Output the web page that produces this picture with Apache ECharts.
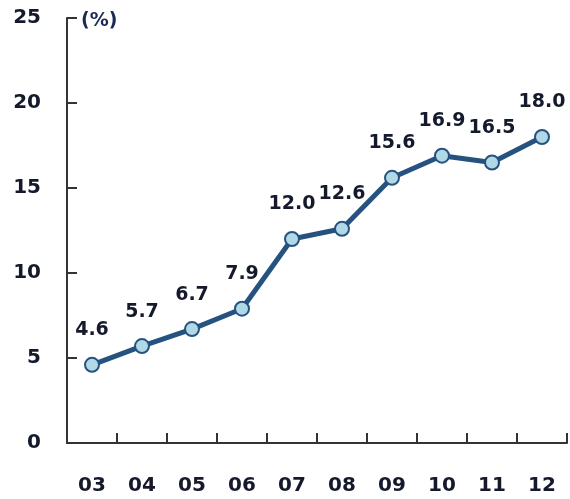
<!DOCTYPE html>
<html>
<head>
<meta charset="utf-8">
<script src="https://cdn.jsdelivr.net/npm/echarts@6/dist/echarts.min.js"></script>
<style>
  html, body { margin: 0; padding: 0; background: #fff; }
  #chart { width: 570px; height: 499px; }
</style>
</head>
<body>
<div id="chart"></div>
<script>
// Years (two-digit) and the share in percent for each year
const years = ['03', '04', '05', '06', '07', '08', '09', '10', '11', '12'];
const shares = [4.6, 5.7, 6.7, 7.9, 12.0, 12.6, 15.6, 16.9, 16.5, 18.0];
const unitLabel = '(%)';

const chart = echarts.init(document.getElementById('chart'), null, { renderer: 'canvas' });
const textColor = '#14192b';
const fontFamily = '"DejaVu Sans", Verdana, sans-serif';

chart.setOption({
  animation: false,
  grid: { left: 67, right: 3, top: 18, bottom: 56, containLabel: false },
  xAxis: {
    type: 'category',
    data: years,
    boundaryGap: true,
    axisLine: { show: true, lineStyle: { color: '#333', width: 2 } },
    axisTick: { show: true, interval: 0, inside: true, length: 10, alignWithLabel: false, lineStyle: { color: '#333', width: 2 } },
    axisLabel: { margin: 33, color: textColor, fontSize: 20, fontWeight: 'bold', fontFamily: fontFamily },
    splitLine: { show: false }
  },
  yAxis: {
    type: 'value',
    min: 0, max: 25, interval: 5,
    name: unitLabel,
    nameLocation: 'end',
    nameGap: -12,
    nameTextStyle: { color: '#1a2a55', fontSize: 19, fontWeight: 'bold', fontFamily: fontFamily, align: 'left', padding: [0, 0, -1, 14] },
    axisLine: { show: true, lineStyle: { color: '#333', width: 2 } },
    axisTick: { show: true, inside: true, length: 10, lineStyle: { color: '#333', width: 2 } },
    axisLabel: { margin: 26, color: textColor, fontSize: 20, fontWeight: 'bold', fontFamily: fontFamily },
    splitLine: { show: false }
  },
  series: [{
    type: 'line',
    data: shares,
    symbol: 'circle',
    symbolSize: 14,
    lineStyle: { color: '#26527f', width: 5 },
    itemStyle: { color: '#b0d8e6', borderColor: '#26527f', borderWidth: 2 },
    label: {
      show: true,
      position: 'top',
      distance: 17,
      color: textColor,
      fontSize: 19,
      fontWeight: 'bold',
      fontFamily: fontFamily,
      formatter: p => p.value.toFixed(1)
    }
  }]
});
</script>
</body>
</html>
